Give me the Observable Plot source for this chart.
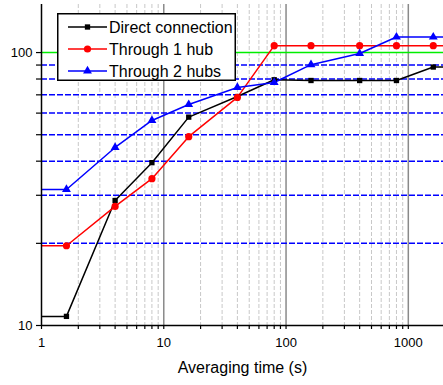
<!DOCTYPE html>
<html>
<head>
<meta charset="utf-8">
<script src="https://cdn.jsdelivr.net/npm/d3@7"></script>
<script src="https://cdn.jsdelivr.net/npm/@observablehq/plot@0.6"></script>
<style>
  html, body { margin: 0; padding: 0; background: #fff; }
  #wrap { position: relative; width: 443px; height: 385px; font-family: "Liberation Sans", Arial, sans-serif; }
  #legend { position: absolute; left: 57px; top: 13px; }
</style>
</head>
<body>
<div id="wrap"><div id="chart"></div><div id="legend"></div></div>
<script>
// ---- data ----
const times = [1.6, 4, 8, 16, 40, 80, 160, 400, 800, 1600];
const direct = [10.8, 28.7, 39.5, 58, 69, 79.5, 79, 79, 79, 88.5];
const hub1 = [19.6, 27.3, 34.5, 49.2, 68.5, 106, 106, 106, 106, 106];
const hub2 = [31.5, 44.9, 56.4, 64.5, 74.5, 77.7, 90.3, 99.2, 114, 114];
const seriesNames = ["Direct connection", "Through 1 hub", "Through 2 hubs"];
const seriesColors = ["#000000", "#ff0000", "#0000ff"];
const seriesSymbols = ["square", "circle", "triangle"];
const xTickLabels = [1, 10, 100, 1000];
const xMinorTicks = [2,3,4,5,6,7,8,9,20,30,40,50,60,70,80,90,200,300,400,500,600,700,800,900];
const yTickLabels = [10, 100];
const yMinorTicks = [20, 30, 40, 50, 60, 70, 80, 90];
const blueLevels = [20, 30, 40, 50, 60, 70, 80, 90];
const greenLevel = [100];
const xDomain = [1, 1940];
const yDomain = [10, 150];

const allSeries = [direct, hub1, hub2];
const points = [];
const linePts = [];
allSeries.forEach((vals, s) => {
  linePts.push({t: xDomain[0], v: vals[0], s: seriesNames[s]});
  times.forEach((t, i) => {
    points.push({t, v: vals[i], s: seriesNames[s]});
    linePts.push({t, v: vals[i], s: seriesNames[s]});
  });
  linePts.push({t: xDomain[1] * 1.2, v: vals[vals.length - 1], s: seriesNames[s]});
});

const colorScale = {domain: seriesNames, range: seriesColors};
const font = "'Liberation Sans', Arial, sans-serif";
const symR = [3, 3.6, 3.3];

const chart = Plot.plot({
  width: 443,
  height: 385,
  marginLeft: 41,
  marginRight: 0,
  marginTop: 4,
  marginBottom: 60,
  style: {fontFamily: font, background: "#fff", color: "#000"},
  x: {type: "log", domain: xDomain},
  y: {type: "log", domain: yDomain},
  color: colorScale,
  symbol: {domain: seriesNames, range: seriesSymbols},
  marks: [
    Plot.ruleX(xMinorTicks, {stroke: "#c8c8c8", strokeWidth: 1, strokeDasharray: "4,2"}),
    Plot.ruleX(xTickLabels.slice(1), {stroke: "#8a8a8a", strokeWidth: 1.5}),
    Plot.ruleY(blueLevels, {stroke: "#0000ff", strokeWidth: 1.5, strokeDasharray: "6,2"}),
    Plot.ruleY(greenLevel, {stroke: "#00ee00", strokeWidth: 1.5}),
    Plot.line(linePts, {x: "t", y: "v", z: "s", stroke: "s", strokeWidth: 1.5, clip: true}),
    ...seriesNames.map((name, i) =>
      Plot.dot(points.filter(d => d.s === name), {x: "t", y: "v", symbol: "s", fill: "s", r: symR[i], stroke: "none"})),
    Plot.axisX({ticks: xMinorTicks, tickFormat: () => "", tickSize: 4, label: null, strokeWidth: 1.2}),
    Plot.axisX({ticks: xTickLabels, tickFormat: d => String(d), tickSize: 4, tickPadding: 8, fontSize: 13, label: null, strokeWidth: 1.2}),
    Plot.axisY({ticks: yMinorTicks, tickFormat: () => "", tickSize: 5, label: null, strokeWidth: 1.2}),
    Plot.axisY({ticks: yTickLabels, tickFormat: d => String(d), tickSize: 5, tickPadding: 4, fontSize: 13, label: null, strokeWidth: 1.2}),
    Plot.ruleX([xDomain[0]], {stroke: "#000", strokeWidth: 1.5}),
    Plot.ruleY([yDomain[0]], {stroke: "#000", strokeWidth: 1.5}),
    Plot.text(["Averaging time (s)"], {frameAnchor: "bottom", dy: 47, fontSize: 16, fill: "#000"})
  ]
});
document.getElementById("chart").appendChild(chart);

// ---- legend ----
const lw = 179, lh = 68;
const lsvg = d3.select("#legend").append("svg")
  .attr("width", lw).attr("height", lh)
  .style("font-family", font).style("display", "block");
lsvg.append("rect").attr("x", 0.75).attr("y", 0.75).attr("width", lw - 1.5).attr("height", lh - 1.5)
  .attr("fill", "#fff").attr("stroke", "#000").attr("stroke-width", 1.5);
const symMap = {square: d3.symbolSquare, circle: d3.symbolCircle, triangle: d3.symbolTriangle};
seriesNames.forEach((name, i) => {
  const cy = 14 + i * 22;
  const g = lsvg.append("g");
  g.append("line").attr("x1", 11).attr("x2", 50).attr("y1", cy).attr("y2", cy)
    .attr("stroke", seriesColors[i]).attr("stroke-width", 1.5);
  g.append("path").attr("transform", `translate(30.5,${cy})`)
    .attr("d", d3.symbol(symMap[seriesSymbols[i]], Math.PI * symR[i] * symR[i])())
    .attr("fill", seriesColors[i]);
  g.append("text").attr("x", 52).attr("y", cy).attr("dy", "0.35em")
    .attr("font-size", 16).attr("fill", "#000").text(name);
});
</script>
</body>
</html>
